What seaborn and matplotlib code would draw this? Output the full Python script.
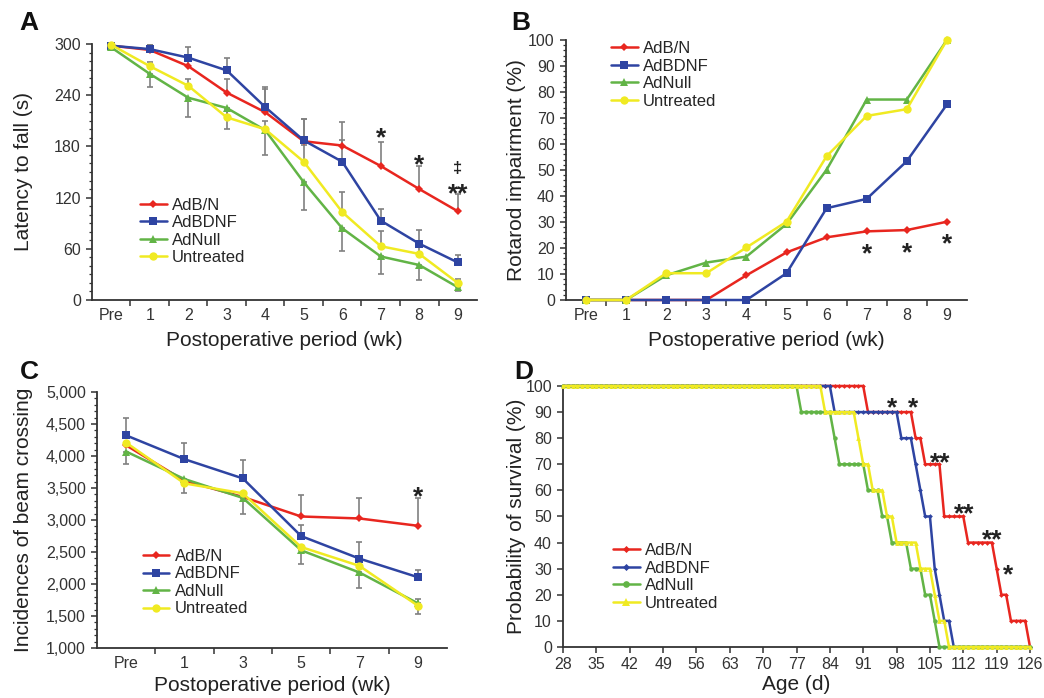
import numpy as np
import pandas as pd
import matplotlib
matplotlib.use("Agg")
import matplotlib.pyplot as plt
from matplotlib.ticker import MultipleLocator, FixedLocator, StrMethodFormatter
from matplotlib.lines import Line2D
import seaborn as sns

groups = ["AdB/N", "AdBDNF", "AdNull", "Untreated"]

# A: rotarod latency to fall (s)
weeks_a = ["Pre", "1", "2", "3", "4", "5", "6", "7", "8", "9"]
lat_bn = [298, 293, 274, 243, 220, 186, 181, 157, 130, 104]
lat_bdnf = [298, 294, 284, 269, 226, 187, 162, 93, 66, 44]
lat_null = [296, 265, 237, 225, 199, 138, 84, 51, 41, 15]
lat_untr = [299, 274, 251, 214, 200, 162, 103, 63, 54, 20]
lat_bn_err = [0, 6, 10, 16, 27, 26, 28, 28, 27, 20]
lat_bdnf_err = [0, 6, 12, 15, 24, 25, 25, 14, 16, 9]
lat_null_err = [0, 15, 23, 25, 29, 33, 27, 20, 17, 5]
lat_untr_err = [0, 5, 8, 10, 10, 20, 23, 18, 12, 5]

# B: rotarod impairment (%)
weeks_b = ["Pre", "1", "2", "3", "4", "5", "6", "7", "8", "9"]
imp_bn = [0, 0, 0, 0, 9.5, 18.3, 24.1, 26.4, 26.9, 30.1]
imp_bdnf = [0, 0, 0, 0, 0, 10.3, 35.3, 38.9, 53.4, 75.2]
imp_null = [0, 0, 9.5, 14.4, 16.7, 29.2, 50.1, 77.1, 77.1, 100]
imp_untr = [0, 0, 10.3, 10.3, 20.2, 30.1, 55.3, 70.8, 73.4, 100]

# C: beam crossing
weeks_c = ["Pre", "1", "3", "5", "7", "9"]
beam_bn = [4167, 3613, 3360, 3055, 3024, 2910]
beam_bdnf = [4322, 3950, 3650, 2749, 2397, 2107]
beam_null = [4069, 3640, 3345, 2527, 2180, 1699]
beam_untr = [4208, 3572, 3417, 2578, 2283, 1662]
beam_bn_err = [0, 0, 0, 335, 315, 430]
beam_bdnf_err = [265, 250, 290, 175, 265, 115]
beam_null_err = [190, 220, 245, 215, 250, 170]
beam_untr_err = [0, 0, 0, 0, 0, 100]

# D: survival, day where each new level starts
surv_bn_days = [28, 92, 102, 104, 108, 113, 119, 120, 122, 126]
surv_bn = [100, 90, 80, 70, 50, 40, 30, 20, 10, 0]
surv_bdnf_days = [28, 85, 99, 102, 103, 104, 106, 107, 108, 110]
surv_bdnf = [100, 90, 80, 70, 60, 50, 30, 20, 10, 0]
surv_null_days = [28, 78, 85, 86, 92, 95, 97, 101, 104, 106, 107]
surv_null = [100, 90, 80, 70, 60, 50, 40, 30, 20, 10, 0]
surv_untr_days = [28, 83, 90, 91, 93, 96, 98, 103, 106, 107, 109]
surv_untr = [100, 90, 80, 70, 60, 50, 40, 30, 20, 10, 0]
age_ticks = list(range(28, 127, 7))

colors = {"AdB/N": "#e8261f", "AdBDNF": "#2e44a2", "AdNull": "#62b446", "Untreated": "#f0ea22"}
markers = {"AdB/N": "D", "AdBDNF": "s", "AdNull": "^", "Untreated": "o"}
msizes = {"AdB/N": 3.6, "AdBDNF": 5.2, "AdNull": 5.8, "Untreated": 6.0}
markers_d = {"AdB/N": "D", "AdBDNF": "D", "AdNull": "o", "Untreated": "^"}
msizes_d = {"AdB/N": 2.4, "AdBDNF": 2.4, "AdNull": 3.2, "Untreated": 3.4}

sns.set_theme(style="ticks")
plt.rcParams["font.family"] = ["Liberation Sans", "DejaVu Sans"]
plt.rcParams["axes.edgecolor"] = "#333333"
plt.rcParams["xtick.color"] = "#333333"
plt.rcParams["ytick.color"] = "#333333"
plt.rcParams["axes.linewidth"] = 1.3

fig = plt.figure(figsize=(10.44, 6.98), dpi=100)
axA = fig.add_axes([0.0881, 0.5702, 0.3688, 0.3668])
axB = fig.add_axes([0.5421, 0.5702, 0.3841, 0.3725])
axC = fig.add_axes([0.0929, 0.0716, 0.3352, 0.3668])
axD = fig.add_axes([0.5393, 0.0731, 0.4473, 0.3739])

err_col = "#808080"


def draw_lines(ax, labels, series, errs=None, dirs=None):
    x = np.arange(len(labels))
    for i, g in enumerate(groups):
        if errs is not None and errs[i] is not None:
            e = np.array(errs[i], dtype=float)
            zero = np.zeros_like(e)
            yerr = [zero, e] if dirs[i] == "up" else [e, zero]
            ax.errorbar(x, series[i], yerr=yerr, fmt="none", ecolor=err_col,
                        elinewidth=1.2, capsize=2.5, capthick=1.2, zorder=1)
    for i, g in enumerate(groups):
        sns.lineplot(x=x, y=series[i], ax=ax, color=colors[g], marker=markers[g],
                     markersize=msizes[g], markeredgewidth=0, linewidth=1.8,
                     clip_on=False, zorder=3 + i, legend=False)
    ax.set_xlim(-0.5, len(labels) - 0.5)
    ax.xaxis.set_major_locator(FixedLocator(x))
    ax.set_xticklabels(labels)
    ax.xaxis.set_minor_locator(FixedLocator(x[:-1] + 0.5))
    ax.tick_params(axis="x", which="major", length=0, pad=6)
    ax.tick_params(axis="x", which="minor", length=4, width=1.1, direction="out")


def style_axis(ax, xlabel, ylabel, xlab_y, ylab_x):
    sns.despine(ax=ax)
    ax.grid(False)
    ax.set_xlabel(xlabel, fontsize=15, color="#222222")
    ax.set_ylabel(ylabel, fontsize=15, color="#222222")
    ax.xaxis.set_label_coords(0.5, xlab_y)
    ax.yaxis.set_label_coords(ylab_x, 0.5)
    ax.tick_params(axis="both", which="major", labelsize=11.5, labelcolor="#333333")
    ax.tick_params(axis="y", which="major", length=4.5, width=1.1, direction="out")
    ax.tick_params(axis="y", which="minor", length=2.2, width=0.9, direction="out")


def add_legend(ax, x0, y0, mk, ms):
    handles = [Line2D([], [], color=colors[g], marker=mk[g], markersize=ms[g],
                      markeredgewidth=0, linewidth=1.8) for g in groups]
    ax.legend(handles, groups, loc="upper left", bbox_to_anchor=(x0, y0),
              frameon=False, fontsize=12, handlelength=1.6, handletextpad=0.3,
              labelspacing=0.15, borderpad=0, borderaxespad=0)


def star(ax, x, y, s, size=19):
    ax.text(x, y, s, ha="center", va="center", fontsize=size,
            fontweight="bold", color="#222222", zorder=10)


# A
draw_lines(axA, weeks_a, [lat_bn, lat_bdnf, lat_null, lat_untr],
           [lat_bn_err, lat_bdnf_err, lat_null_err, lat_untr_err],
           ["up", "up", "down", "up"])
axA.set_ylim(0, 300)
axA.yaxis.set_major_locator(MultipleLocator(60))
axA.yaxis.set_minor_locator(MultipleLocator(10))
style_axis(axA, "Postoperative period (wk)", "Latency to fall (s)", -0.12, -0.153)
add_legend(axA, 0.125, 0.40, markers, msizes)
star(axA, 7, 190, "*")
star(axA, 8, 158, "*")
star(axA, 9, 154, "‡", 12)
star(axA, 9, 124, "**")

# B
draw_lines(axB, weeks_b, [imp_bn, imp_bdnf, imp_null, imp_untr])
axB.set_ylim(0, 100)
axB.yaxis.set_major_locator(MultipleLocator(10))
axB.yaxis.set_minor_locator(MultipleLocator(2))
style_axis(axB, "Postoperative period (wk)", "Rotarod impairment (%)", -0.12, -0.10)
add_legend(axB, 0.112, 0.995, markers, msizes)
for wk, yv in zip([7, 8, 9], [17.5, 18, 21.5]):
    star(axB, wk, yv, "*")

# C
draw_lines(axC, weeks_c, [beam_bn, beam_bdnf, beam_null, beam_untr],
           [beam_bn_err, beam_bdnf_err, beam_null_err, beam_untr_err],
           ["up", "up", "down", "up"])
axC.set_ylim(1000, 5000)
axC.yaxis.set_major_locator(MultipleLocator(500))
axC.yaxis.set_minor_locator(MultipleLocator(100))
axC.yaxis.set_major_formatter(StrMethodFormatter("{x:,.0f}"))
style_axis(axC, "Postoperative period (wk)", "Incidences of beam crossing", -0.108, -0.183)
add_legend(axC, 0.131, 0.387, markers, msizes)
star(axC, 5, 3360, "*")

# D: survival is constant between death days, so carry each level forward
days = np.arange(28, 127)
surv = [(surv_bn_days, surv_bn), (surv_bdnf_days, surv_bdnf),
        (surv_null_days, surv_null), (surv_untr_days, surv_untr)]
for i, g in enumerate(groups):
    d, v = surv[i]
    daily = pd.Series(v, index=d).reindex(days).ffill()
    sns.lineplot(x=days, y=daily.values, ax=axD, color=colors[g], marker=markers_d[g],
                 markersize=msizes_d[g], markeredgewidth=0, linewidth=1.8,
                 clip_on=False, zorder=3 + i, legend=False)
axD.set_xlim(28, 126)
axD.set_ylim(0, 100)
axD.set_xticks(age_ticks)
axD.yaxis.set_major_locator(MultipleLocator(10))
style_axis(axD, "Age (d)", "Probability of survival (%)", -0.108, -0.079)
axD.tick_params(axis="x", which="major", length=4, width=1.1, direction="out")
add_legend(axD, 0.107, 0.398, markers_d, {g: s * 1.5 for g, s in msizes_d.items()})
for ax_x, ax_y, s in [(97, 91.5, "*"), (101.4, 91.5, "*"), (107.1, 70.5, "**"),
                      (112.1, 51, "**"), (118, 41, "**"), (121.3, 27.5, "*")]:
    star(axD, ax_x, ax_y, s)

for letter, xpos, ypos in [("A", 0.019, 0.967), ("B", 0.490, 0.967),
                           ("C", 0.019, 0.467), ("D", 0.493, 0.467)]:
    fig.text(xpos, ypos, letter, fontsize=19, fontweight="bold",
             color="#111111", va="center", ha="left")

fig.savefig("out.png", dpi=100)
